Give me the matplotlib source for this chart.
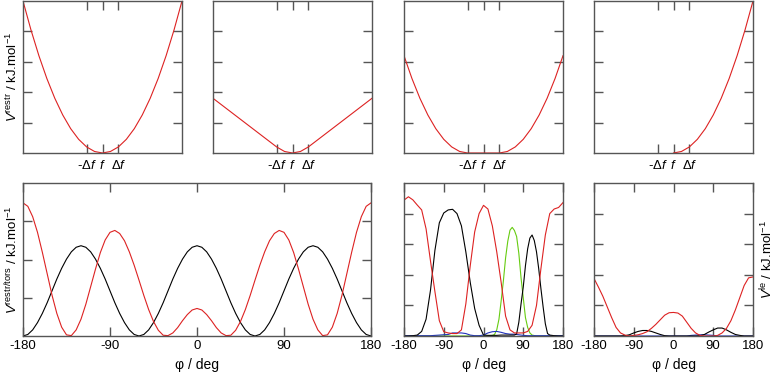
import matplotlib
matplotlib.use('Agg')
import matplotlib.pyplot as plt

# top row: restraint shapes, x in units around f (f = 0, delta f = 1)
top_x = [-5, -4.5, -4, -3.5, -3, -2.5, -2, -1.5, -1, -0.5, 0,
         0.5, 1, 1.5, 2, 2.5, 3, 3.5, 4, 4.5, 5]
harmonic = [5.0, 4.05, 3.2, 2.45, 1.8, 1.25, 0.8, 0.45, 0.2, 0.05, 0,
            0.05, 0.2, 0.45, 0.8, 1.25, 1.8, 2.45, 3.2, 4.05, 5.0]
linear = [1.8, 1.6, 1.4, 1.2, 1.0, 0.8, 0.6, 0.4, 0.2, 0.05, 0,
          0.05, 0.2, 0.4, 0.6, 0.8, 1.0, 1.2, 1.4, 1.6, 1.8]
flat_bottom = [3.2, 2.45, 1.8, 1.25, 0.8, 0.45, 0.2, 0.05, 0, 0, 0,
               0, 0, 0.05, 0.2, 0.45, 0.8, 1.25, 1.8, 2.45, 3.2]
half_x = [0, 0.5, 1, 1.5, 2, 2.5, 3, 3.5, 4, 4.5, 5]
half_harmonic = [0, 0.05, 0.2, 0.45, 0.8, 1.25, 1.8, 2.45, 3.2, 4.05, 5.0]
top_xticks = [-1, 0, 1]
top_xlabels = ['-Δ$f$', '$f$', 'Δ$f$']

# bottom left: restraint + torsion, 5 deg steps
phi5 = list(range(-180, 181, 5))
bl_black = [0, 0.04, 0.16, 0.35, 0.59, 0.87, 1.18, 1.49, 1.77, 2.01, 2.20, 2.32,
            2.36, 2.32, 2.20, 2.01, 1.77, 1.49, 1.18, 0.87, 0.59, 0.35, 0.16, 0.04,
            0, 0.04, 0.16, 0.35, 0.59, 0.87, 1.18, 1.49, 1.77, 2.01, 2.20, 2.32,
            2.36, 2.32, 2.20, 2.01, 1.77, 1.49, 1.18, 0.87, 0.59, 0.35, 0.16, 0.04,
            0, 0.04, 0.16, 0.35, 0.59, 0.87, 1.18, 1.49, 1.77, 2.01, 2.20, 2.32,
            2.36, 2.32, 2.20, 2.01, 1.77, 1.49, 1.18, 0.87, 0.59, 0.35, 0.16, 0.04, 0]
bl_red = [3.48, 3.39, 3.12, 2.71, 2.19, 1.63, 1.07, 0.59, 0.23, 0.03, 0.01, 0.16,
          0.44, 0.83, 1.29, 1.75, 2.18, 2.51, 2.71, 2.76, 2.68, 2.49, 2.20, 1.85,
          1.46, 1.06, 0.69, 0.38, 0.15, 0.02, 0.01, 0.08, 0.22, 0.40, 0.56, 0.68,
          0.72,
          0.68, 0.56, 0.40, 0.22, 0.08, 0.01, 0.02, 0.15, 0.38, 0.69, 1.06, 1.46,
          1.85, 2.20, 2.49, 2.68, 2.76, 2.71, 2.51, 2.18, 1.75, 1.29, 0.83, 0.44,
          0.16, 0.01, 0.03, 0.23, 0.59, 1.07, 1.63, 2.19, 2.71, 3.12, 3.39, 3.48]

# bottom middle, 10 deg steps (finer around narrow peaks)
phi10 = list(range(-180, 181, 10))
bm_red = [4.44, 4.55, 4.45, 4.28, 4.12, 3.5, 2.45, 1.45, 0.5, 0.14, 0.1, 0.08, 0.08,
          0.2, 1.05, 2.3, 3.4, 4.0, 4.27, 4.15, 3.6, 2.75, 1.75, 0.65, 0.2, 0.1, 0.1,
          0.1, 0.15, 0.35, 1.0, 2.2, 3.3, 4.0, 4.15, 4.2, 4.36]
bm_black_phi = [-180, -170, -160, -150, -140, -130, -120, -110, -100, -90, -80,
                -70, -60, -50, -40, -30, -20, -10, 0, 10, 20, 30, 40, 50, 60, 70,
                75, 80, 85, 90, 95, 100, 105, 110, 115, 120, 125, 130, 135, 140,
                145, 150, 160, 170, 180]
bm_black = [0, 0, 0.01, 0.03, 0.15, 0.55, 1.5, 2.8, 3.7, 4.02, 4.12, 4.14, 4.0,
            3.6, 2.75, 1.75, 0.9, 0.35, 0.03, 0.02, 0.02, 0.02, 0.03, 0.03, 0.03,
            0.03, 0.07, 0.45, 1.05, 1.6, 2.3, 2.85, 3.2, 3.3, 3.12, 2.75, 2.2,
            1.55, 0.95, 0.4, 0.08, 0.03, 0.01, 0, 0]
bm_green_phi = [-180, -90, 0, 10, 20, 25, 30, 35, 40, 45, 50, 55, 60, 65, 70,
                75, 80, 85, 90, 95, 100, 105, 110, 120, 180]
bm_green = [0, 0, 0, 0.01, 0.02, 0.05, 0.2, 0.55, 1.15, 1.8, 2.55, 3.1, 3.46,
            3.55, 3.45, 3.25, 2.7, 1.9, 1.25, 0.6, 0.28, 0.1, 0.03, 0, 0]
bm_blue = [0.01, 0.01, 0.01, 0.01, 0.01, 0.01, 0.01, 0.02, 0.03, 0.04, 0.05, 0.1,
           0.1, 0.1, 0.08, 0.03, 0.01, 0.01, 0.03, 0.1, 0.14, 0.15, 0.12, 0.08,
           0.06, 0.06, 0.04, 0.02, 0.01, 0.01, 0.01, 0.01, 0.01, 0.01, 0.01, 0.01, 0.01]

# bottom right
br_red = [1.88, 1.6, 1.3, 0.95, 0.6, 0.28, 0.1, 0.03, 0.0, 0.02, 0.04, 0.08, 0.14,
          0.25, 0.38, 0.53, 0.68, 0.76, 0.77, 0.75, 0.65, 0.45, 0.25, 0.1, 0.02,
          0, 0, 0, 0.02, 0.1, 0.25, 0.5, 0.85, 1.25, 1.65, 1.9, 1.93]
br_black = [0, 0, 0, 0, 0, 0, 0, 0.01, 0.04, 0.1, 0.15, 0.18, 0.18, 0.15, 0.1,
            0.05, 0.01, 0, 0, 0, 0, 0, 0, 0, 0.01, 0.05, 0.13, 0.2, 0.26, 0.26,
            0.2, 0.12, 0.05, 0.02, 0, 0, 0]
br_blue = [0, 0, 0, 0, 0, 0, 0, 0, 0, 0, 0, 0, 0, 0, 0, 0, 0, 0, 0, 0, 0, 0,
           0.02, 0.03, 0.04, 0.04, 0.03, 0.02, 0, 0, 0, 0, 0, 0, 0, 0, 0]
phi_ticks = [-180, -90, 0, 90, 180]
phi_labels = ['-180', '-90', '0', '90', '180']

RED = '#dd2222'
GREEN = '#66cc11'
BLUE = '#2233bb'
GREY = '#555555'

plt.rcParams['font.family'] = ['Liberation Sans', 'DejaVu Sans']
plt.rcParams['mathtext.fontset'] = 'custom'
plt.rcParams['mathtext.rm'] = 'Liberation Sans'
plt.rcParams['mathtext.it'] = 'Liberation Sans:italic'
plt.rcParams['mathtext.sf'] = 'Liberation Sans'

W, H = 777, 374
fig = plt.figure(figsize=(W / 100, H / 100), dpi=100)


def box(x0, y0, x1, y1):
    return [x0 / W, 1 - y1 / H, (x1 - x0) / W, (y1 - y0) / H]


def style(ax, nint):
    ax.set_ylim(0, nint)
    ax.set_yticks(range(1, nint))
    ax.tick_params(direction='in', length=6.5, width=1, color=GREY,
                   top=True, right=True, labelleft=False, labelsize=9.5)
    for s in ax.spines.values():
        s.set_color(GREY)
        s.set_linewidth(1.0)


def phi_axis(ax):
    ax.set_xlim(-180, 180)
    ax.set_xticks(phi_ticks)
    ax.set_xticklabels(phi_labels)
    ax.tick_params(axis='x', pad=3)
    ax.set_xlabel('φ / deg', fontsize=10, labelpad=4)


lw = 0.8
top_series = [(top_x, harmonic), (top_x, linear), (top_x, flat_bottom),
              (half_x, half_harmonic)]
top_left = [23, 213, 404, 594]
for x0, (xs, ys) in zip(top_left, top_series):
    ax = fig.add_axes(box(x0, 1, x0 + 159, 153))
    ax.plot(xs, ys, color=RED, lw=lw)
    ax.set_xlim(-5, 5)
    style(ax, 5)
    ax.set_xticks(top_xticks)
    ax.set_xticklabels(top_xlabels)
    ax.tick_params(axis='x', pad=4)
    if x0 == 23:
        ax.set_ylabel(r'$V^{\mathrm{restr}}$ / kJ.mol$^{-1}$', fontsize=9.5, labelpad=2)

# bottom left
ax = fig.add_axes(box(23, 183, 371, 336))
ax.plot(phi5, bl_black, color='black', lw=lw)
ax.plot(phi5, bl_red, color=RED, lw=lw)
style(ax, 4)
phi_axis(ax)
ax.set_ylabel(r'$V^{\mathrm{restr/tors}}$ / kJ.mol$^{-1}$', fontsize=9.5, labelpad=2)

# bottom middle
ax = fig.add_axes(box(404, 183, 563, 336))
ax.plot(bm_green_phi, bm_green, color=GREEN, lw=lw)
ax.plot(phi10, bm_blue, color=BLUE, lw=lw)
ax.plot(bm_black_phi, bm_black, color='black', lw=lw)
ax.plot(phi10, bm_red, color=RED, lw=lw)
style(ax, 5)
phi_axis(ax)

# bottom right
ax = fig.add_axes(box(594, 183, 753, 336))
ax.plot(phi10, br_blue, color=BLUE, lw=lw)
ax.plot(phi10, br_black, color='black', lw=lw)
ax.plot(phi10, br_red, color=RED, lw=lw)
style(ax, 5)
phi_axis(ax)
ax.yaxis.set_label_position('right')
ax.set_ylabel(r'$V^{\mathrm{le}}$ / kJ.mol$^{-1}$', fontsize=9.5, labelpad=4)

fig.savefig('out.png', dpi=100)
